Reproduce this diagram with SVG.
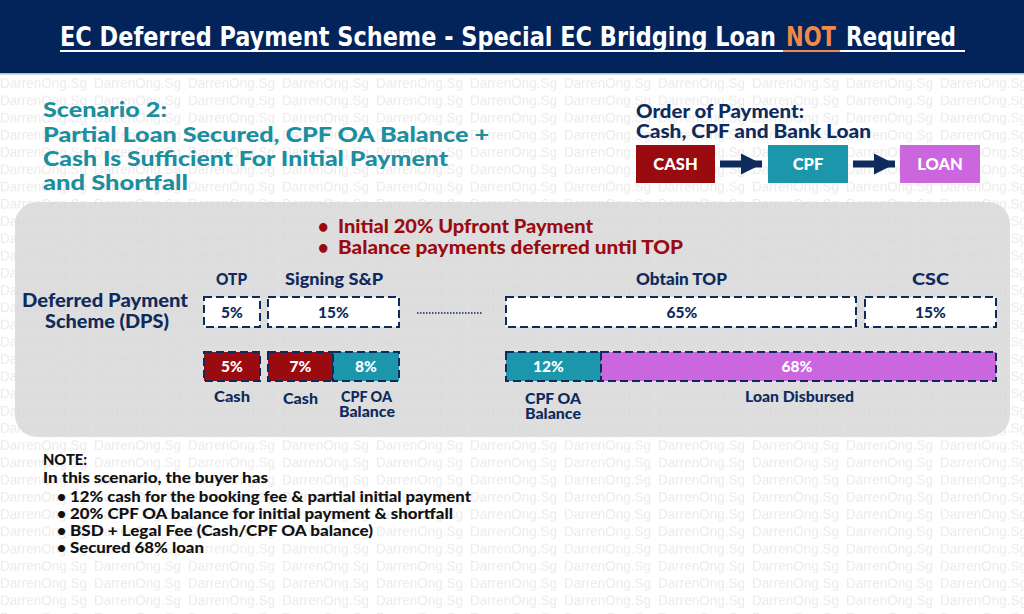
<svg xmlns="http://www.w3.org/2000/svg" width="1024" height="614" viewBox="0 0 1024 614">
<defs>
<pattern id="wm" patternUnits="userSpaceOnUse" x="0" y="74.5" width="94" height="17.24">
<text x="0" y="13" font-family="Liberation Sans, Arial, sans-serif" font-size="13.5" fill="#ebebeb">DarrenOng.Sg</text>
</pattern>
<marker id="ah" viewBox="0 0 10 10" refX="10" refY="5" markerWidth="3" markerHeight="3.8" orient="auto" markerUnits="strokeWidth">
<path d="M0,0 L10,5 L0,10 z" fill="#0f2a5c"/>
</marker>
<style>
.b{font-family:Lato,"Liberation Sans",Arial,sans-serif;font-weight:900}
.nv{fill:#0f2a5c}
.wt{fill:#ffffff}
.dash{stroke:#0f2a5c;stroke-width:2;stroke-dasharray:8 4}
.red{fill:#9a0b10}
.teal{fill:#1b96ab}
.vio{fill:#cb66df}
.conn{stroke:#0f2a5c;stroke-width:7;fill:none}
</style>
</defs>
<rect x="0" y="0" width="1024" height="614" fill="#ffffff"/>
<rect x="0" y="74" width="1024" height="540" fill="url(#wm)"/>
<rect x="0" y="0" width="1024" height="73" fill="#03245a"/>
<rect x="0" y="73" width="1024" height="1.5" fill="#9fc7cf"/>
<g id="title">
<g font-family="DejaVu Sans Condensed, DejaVu Sans, sans-serif" font-stretch="condensed" font-weight="700" font-size="22.5" transform="translate(0,46) scale(1,1.15) translate(0,-46)">
<text x="60" y="46" textLength="716" lengthAdjust="spacingAndGlyphs" fill="#ffffff">EC Deferred Payment Scheme - Special EC Bridging Loan</text>
<text x="786" y="46" textLength="50" lengthAdjust="spacingAndGlyphs" fill="#f0894a">NOT</text>
<text x="846" y="46" textLength="110" lengthAdjust="spacingAndGlyphs" fill="#ffffff">Required</text>
</g>
<rect x="60" y="50" width="723" height="2" fill="#ffffff"/>
<rect x="783" y="50" width="57" height="2" fill="#f0894a"/>
<rect x="840" y="50" width="125" height="2" fill="#ffffff"/>
</g>
<g id="scenario" class="b" font-size="21" fill="#1b8ea0">
<text x="43" y="117" textLength="124" lengthAdjust="spacingAndGlyphs">Scenario 2:</text>
<text x="43" y="142" textLength="446" lengthAdjust="spacingAndGlyphs">Partial Loan Secured, CPF OA Balance +</text>
<text x="43" y="166" textLength="405" lengthAdjust="spacingAndGlyphs">Cash Is Sufficient For Initial Payment</text>
<text x="43" y="190" textLength="145" lengthAdjust="spacingAndGlyphs">and Shortfall</text>
</g>
<g id="order" class="b nv" font-size="18.5">
<text x="636" y="118" textLength="168" lengthAdjust="spacingAndGlyphs">Order of Payment:</text>
<text x="636" y="138" textLength="235" lengthAdjust="spacingAndGlyphs">Cash, CPF and Bank Loan</text>
</g>
<g id="cash-box">
<rect x="636" y="145" width="79" height="38" class="red"/>
<text x="675.5" y="170" text-anchor="middle" class="b wt" font-size="16.5">CASH</text>
</g>
<g id="cpf-box">
<rect x="768" y="145" width="80" height="38" class="teal"/>
<text x="808" y="170" text-anchor="middle" class="b wt" font-size="16.5">CPF</text>
</g>
<g id="loan-box">
<rect x="900" y="145" width="80" height="38" class="vio"/>
<text x="940" y="170" text-anchor="middle" class="b wt" font-size="16.5">LOAN</text>
</g>
<g id="connectors">
<line x1="720" y1="164" x2="762" y2="164" class="conn" marker-end="url(#ah)"/>
<line x1="853" y1="164" x2="895" y2="164" class="conn" marker-end="url(#ah)"/>
</g>
<rect x="15" y="202" width="995" height="235" rx="22" fill="#d7d7d7" fill-opacity="0.82"/>
<g id="bullets" class="b" font-size="18" fill="#9a0b10">
<text x="318" y="233">•</text>
<text x="338" y="233" textLength="255" lengthAdjust="spacingAndGlyphs">Initial 20% Upfront Payment</text>
<text x="318" y="254">•</text>
<text x="338" y="254" textLength="345" lengthAdjust="spacingAndGlyphs">Balance payments deferred until TOP</text>
</g>
<g id="dps-label" class="b nv" font-size="18" text-anchor="middle">
<text x="105" y="307" textLength="166" lengthAdjust="spacingAndGlyphs">Deferred Payment</text>
<text x="107" y="328" textLength="124" lengthAdjust="spacingAndGlyphs">Scheme (DPS)</text>
</g>
<g id="stage-labels" class="b nv" font-size="16" text-anchor="middle">
<text x="231.5" y="285" textLength="31" lengthAdjust="spacingAndGlyphs">OTP</text>
<text x="334" y="285" textLength="98" lengthAdjust="spacingAndGlyphs">Signing S&amp;P</text>
<text x="681.5" y="285" textLength="91" lengthAdjust="spacingAndGlyphs">Obtain TOP</text>
<text x="930.5" y="285" textLength="37" lengthAdjust="spacingAndGlyphs">CSC</text>
</g>
<g id="otp-5">
<rect x="204" y="297" width="56" height="30" fill="#ffffff" class="dash"/>
<text x="232" y="318" text-anchor="middle" class="b nv" font-size="15.5">5%</text>
</g>
<g id="sp-15">
<rect x="268" y="297" width="131" height="30" fill="#ffffff" class="dash"/>
<text x="333.5" y="318" text-anchor="middle" class="b nv" font-size="15.5">15%</text>
</g>
<line x1="417" y1="313" x2="483" y2="313" stroke="#0f2a5c" stroke-width="1.5" stroke-dasharray="1.5 1.5"/>
<g id="top-65">
<rect x="506" y="297" width="350" height="30" fill="#ffffff" class="dash"/>
<text x="682" y="318" text-anchor="middle" class="b nv" font-size="15.5">65%</text>
</g>
<g id="csc-15">
<rect x="865" y="297" width="131" height="30" fill="#ffffff" class="dash"/>
<text x="930.5" y="318" text-anchor="middle" class="b nv" font-size="15.5">15%</text>
</g>
<g id="cash-5">
<rect x="204" y="352" width="56" height="29" class="red dash"/>
<text x="232" y="372" text-anchor="middle" class="b wt" font-size="15.5">5%</text>
</g>
<g id="cash-7">
<rect x="268" y="352" width="65" height="29" class="red dash"/>
<text x="300.5" y="372" text-anchor="middle" class="b wt" font-size="15.5">7%</text>
</g>
<g id="cpf-8">
<rect x="333" y="352" width="66" height="29" class="teal dash"/>
<text x="366" y="372" text-anchor="middle" class="b wt" font-size="15.5">8%</text>
</g>
<g id="cpf-12">
<rect x="506" y="352" width="95" height="29" class="teal dash"/>
<text x="548.5" y="372" text-anchor="middle" class="b wt" font-size="15.5">12%</text>
</g>
<g id="loan-68">
<rect x="601" y="352" width="395" height="29" class="vio dash"/>
<text x="797" y="372" text-anchor="middle" class="b wt" font-size="15.5">68%</text>
</g>
<g id="row-labels" class="b nv" font-size="14.5" text-anchor="middle">
<text x="232" y="402" textLength="36" lengthAdjust="spacingAndGlyphs">Cash</text>
<text x="300.5" y="404" textLength="35" lengthAdjust="spacingAndGlyphs">Cash</text>
<text x="366.5" y="402" textLength="51" lengthAdjust="spacingAndGlyphs">CPF OA</text>
<text x="367" y="417" textLength="56" lengthAdjust="spacingAndGlyphs">Balance</text>
<text x="553" y="404" textLength="56" lengthAdjust="spacingAndGlyphs">CPF OA</text>
<text x="553" y="419" textLength="56" lengthAdjust="spacingAndGlyphs">Balance</text>
<text x="799.5" y="402" textLength="109" lengthAdjust="spacingAndGlyphs">Loan Disbursed</text>
</g>
<g id="note" class="b" font-size="15.5" fill="#111111">
<text x="43" y="465" textLength="44" lengthAdjust="spacingAndGlyphs">NOTE:</text>
<text x="43" y="483" textLength="225" lengthAdjust="spacingAndGlyphs">In this scenario, the buyer has</text>
<text x="57" y="502">•</text>
<text x="70" y="502" textLength="401" lengthAdjust="spacingAndGlyphs">12% cash for the booking fee &amp; partial initial payment</text>
<text x="57" y="519">•</text>
<text x="70" y="519" textLength="383" lengthAdjust="spacingAndGlyphs">20% CPF OA balance for initial payment &amp; shortfall</text>
<text x="57" y="536">•</text>
<text x="70" y="536" textLength="303" lengthAdjust="spacingAndGlyphs">BSD + Legal Fee (Cash/CPF OA balance)</text>
<text x="57" y="553">•</text>
<text x="70" y="553" textLength="134" lengthAdjust="spacingAndGlyphs">Secured 68% loan</text>
</g>
</svg>
